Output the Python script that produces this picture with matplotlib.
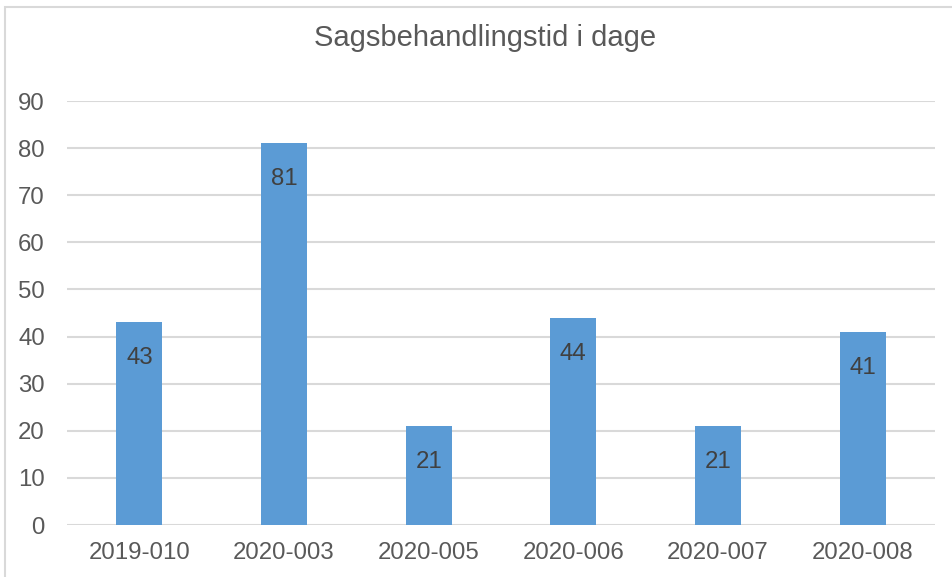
import matplotlib.pyplot as plt
from matplotlib.patches import Rectangle

# data
categories = ['2019-010', '2020-003', '2020-005', '2020-006', '2020-007', '2020-008']
days = [43, 81, 21, 44, 21, 41]
y_ticks = [0, 10, 20, 30, 40, 50, 60, 70, 80, 90]

plt.rcParams['font.family'] = ['Liberation Sans', 'DejaVu Sans']

W, H = 952, 577
fig = plt.figure(figsize=(W / 100, H / 100), dpi=100)

# chart border (left and top visible, right/bottom run off the picture)
fig.patches.append(Rectangle((5 / W, -0.05), 1.2, (H - 7) / H + 0.05,
                             transform=fig.transFigure, fill=False,
                             edgecolor='#D9D9D9', linewidth=1.5))

ax = fig.add_axes([67 / W, (H - 525) / H, (935 - 67) / W, (525 - 101) / H])
x = range(len(categories))
bars = ax.bar(x, days, width=0.32, color='#5B9BD5', zorder=2)

ax.set_xlim(-0.5, len(categories) - 0.5)
ax.set_ylim(0, 90)
ax.set_yticks(y_ticks)
ax.set_xticks(list(x))
ax.set_xticklabels(categories)
ax.grid(axis='y', color='#D9D9D9', linewidth=1.5, zorder=0)
ax.tick_params(axis='both', length=0, labelsize=17.3, colors='#595959')
ax.tick_params(axis='x', pad=12)
ax.tick_params(axis='y', pad=16)
for s in ax.spines.values():
    s.set_visible(False)

# data labels inside the top of each bar
for b, v in zip(bars, days):
    ax.annotate(str(v), (b.get_x() + b.get_width() / 2, v),
                xytext=(0, -36), textcoords='offset pixels',
                ha='center', va='center', fontsize=17.3, color='#404040')

fig.text(485 / W, (H - 38) / H, 'Sagsbehandlingstid i dage',
         ha='center', va='center', fontsize=21, color='#595959')

fig.savefig('out.png', dpi=100)
